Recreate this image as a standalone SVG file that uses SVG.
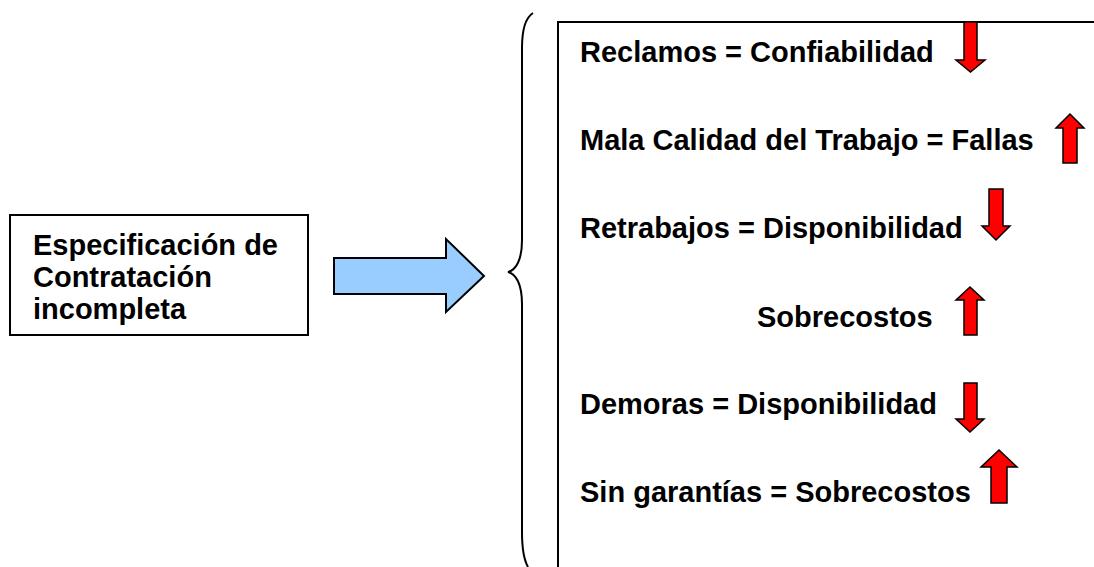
<svg xmlns="http://www.w3.org/2000/svg" width="1094" height="567" viewBox="0 0 1094 567">
<style>
  .t { font-family: "Liberation Sans", Arial, sans-serif; font-weight: bold; font-size: 29px; fill: #000; }
  .box { fill: #fff; stroke: #000; stroke-width: 2; }
  .red { fill: #ff0000; stroke: #000; stroke-width: 1.5; stroke-linejoin: miter; }
  .blue { fill: #99ccff; stroke: #000; stroke-width: 2; }
  .brace { fill: none; stroke: #000; stroke-width: 2; }
</style>
<rect width="1094" height="567" fill="#fff"/>
<g id="source">
  <rect class="box" x="10" y="215" width="298" height="120"/>
  <text class="t" x="33" y="255">Especificación de</text>
  <text class="t" x="33" y="287">Contratación</text>
  <text class="t" x="33" y="319">incompleta</text>
</g>
<g id="connectors">
  <polygon class="blue" points="334,258 446,258 446,239 484,276 446,312 446,294 334,294"/>
  <path class="brace" d="M533,13 C525,18 522,30 522,48 L522,240 C522,260 516,270 508,272 C516,274 522,284 522,304 L522,532 C522,550 524,560 528,567"/>
</g>
<g id="effects">
  <path d="M1096,22 H558 V569" fill="none" stroke="#000" stroke-width="2"/>
  <g id="row1">
    <text class="t" x="580" y="62">Reclamos = Confiabilidad</text>
    <polygon class="red" points="964,22 977,22 977,60 985,60 970.5,72 956,60 964,60"/>
  </g>
  <g id="row2">
    <text class="t" x="580" y="150">Mala Calidad del Trabajo = Fallas</text>
    <polygon class="red" points="1063,163 1077,163 1077,128 1084,128 1070,114 1056,128 1063,128"/>
  </g>
  <g id="row3">
    <text class="t" x="580" y="238">Retrabajos = Disponibilidad</text>
    <polygon class="red" points="989,189 1003,189 1003,226 1010,226 996,240 982,226 989,226"/>
  </g>
  <g id="row4">
    <text class="t" x="757" y="327">Sobrecostos</text>
    <polygon class="red" points="964,335 977,335 977,300 984,300 970,287 956,300 964,300"/>
  </g>
  <g id="row5">
    <text class="t" x="580" y="414">Demoras = Disponibilidad</text>
    <polygon class="red" points="964,383 977,383 977,419 984,419 970,432 956,419 964,419"/>
  </g>
  <g id="row6">
    <text class="t" x="580" y="502">Sin garantías = Sobrecostos</text>
    <polygon class="red" points="991,503 1007,503 1007,467 1017,467 999,450 981,467 991,467"/>
  </g>
</g>
</svg>
